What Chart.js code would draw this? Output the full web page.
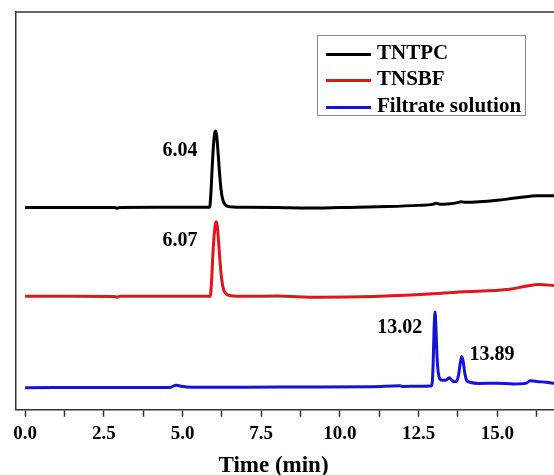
<!DOCTYPE html>
<html>
<head>
<meta charset="utf-8">
<script src="https://cdn.jsdelivr.net/npm/chart.js@4.4.0/dist/chart.umd.min.js"></script>
<style>
  html, body { margin: 0; padding: 0; background: #fff; }
  #wrap { position: relative; width: 554px; height: 475px; }
  #legend {
    position: absolute; left: 317px; top: 35px; width: 207px; height: 79px;
    border: 1px solid #8a8a8a; background: #fff;
    font: bold 21px 'Liberation Serif', 'Times New Roman', serif; color: #000;
  }
  #legend div { position: absolute; left: 8px; height: 26px; line-height: 26px; white-space: nowrap; }
  #legend span.line { display: inline-block; width: 45px; height: 3px; vertical-align: middle; margin-right: 6px; }
</style>
</head>
<body>
<div id="wrap">
  <canvas id="chart" width="554" height="475"></canvas>
  <div id="legend"></div>
</div>
<script>
// retention time axis (min)
const majorTicks = [0, 2.5, 5, 7.5, 10, 12.5, 15];
const minorTicks = [1.25, 3.75, 6.25, 8.75, 11.25, 13.75, 16.25];

const seriesNames = ["TNTPC", "TNSBF", "Filtrate solution"];
const seriesColors = ["#000000", "#e3141c", "#1414d6"];

// TNTPC trace (signal, offset stack, arbitrary units)
const tntpcTime = [0, 1.5, 2.85, 2.92, 3.0, 4.5, 5.86, 5.9, 5.94, 5.98, 6.02, 6.05, 6.08, 6.12, 6.17, 6.22, 6.28, 6.36, 6.45, 6.6, 7.0, 8.0, 9.0, 10.0, 11.5, 12.5, 12.95, 13.05, 13.2, 13.7, 13.85, 14.0, 15.0, 15.5, 15.9, 16.2, 16.5, 16.8];
const tntpcSignal = [201.5, 201.5, 201.4, 200.7, 201.5, 201.6, 201.6, 215, 240, 262, 275, 277.5, 274, 260, 238, 220, 209, 204, 202.5, 201.8, 201.6, 201.3, 200.8, 201.3, 202.3, 203.5, 204.5, 205.5, 204.5, 206, 207, 206.5, 208.5, 210.5, 212, 213, 213.2, 213];

// TNSBF trace
const tnsbfTime = [0, 1.5, 2.85, 2.92, 3.0, 4.5, 5.88, 5.92, 5.96, 6.0, 6.04, 6.07, 6.1, 6.14, 6.19, 6.24, 6.3, 6.38, 6.47, 6.62, 7.2, 8.0, 9.3, 11.1, 12.7, 13.8, 15.4, 15.9, 16.35, 16.8];
const tnsbfSignal = [113, 113, 112.8, 112, 113, 113, 113, 127, 152, 172, 184, 187.3, 184, 170, 148, 131, 120, 115.5, 114, 113.3, 113, 113.3, 112, 112.8, 115, 117.3, 120, 123, 124.7, 123.7];

// Filtrate solution trace
const filtrateTime = [0, 2.9, 4.6, 4.8, 4.95, 5.3, 7.0, 9.0, 11.0, 11.9, 12.0, 12.5, 12.92, 12.96, 12.99, 13.02, 13.05, 13.08, 13.12, 13.17, 13.25, 13.35, 13.43, 13.48, 13.54, 13.62, 13.7, 13.77, 13.82, 13.87, 13.92, 13.97, 14.03, 14.12, 14.4, 15.0, 15.5, 15.9, 16.05, 16.3, 16.55, 16.8];
const filtrateSignal = [22, 22.3, 22.3, 24.5, 23.5, 22.5, 22.5, 22.8, 23, 24, 23.2, 23.5, 24, 45, 80, 97.3, 82, 55, 38, 31, 29.5, 29.5, 31, 32, 30, 28, 28.5, 35, 46, 53, 47, 36, 29, 27.5, 26.3, 26.5, 25.8, 26.3, 28.8, 28, 27.5, 26.3];

// peak annotations: text, time and level of the label centre
const peakLabels = ["6.04", "6.07", "13.02", "13.89"];
const peakLabelTime = [4.92, 4.92, 11.9, 14.83];
const peakLabelLevel = [258, 168, 82, 55];

const fontFamily = "'Liberation Serif', 'Times New Roman', serif";
Chart.defaults.font.family = fontFamily;
Chart.defaults.color = "#000";

function toPoints(times, values) {
    return times.map((t, i) => ({ x: t, y: values[i] }));
}

const traces = [
    toPoints(tntpcTime, tntpcSignal),
    toPoints(tnsbfTime, tnsbfSignal),
    toPoints(filtrateTime, filtrateSignal)
];

// top edge of the frame
const frameTop = {
    id: "frameTop",
    afterDraw(chart) {
        const { ctx, chartArea } = chart;
        ctx.save();
        ctx.strokeStyle = "#333";
        ctx.lineWidth = 1.5;
        ctx.beginPath();
        ctx.moveTo(chartArea.left - 0.75, chartArea.top);
        ctx.lineTo(chartArea.right, chartArea.top);
        ctx.stroke();
        ctx.restore();
    }
};

// retention time labels next to the peaks
const peakText = {
    id: "peakText",
    afterDatasetsDraw(chart) {
        const { ctx, scales } = chart;
        ctx.save();
        ctx.font = "bold 20px " + fontFamily;
        ctx.fillStyle = "#000";
        ctx.textAlign = "center";
        ctx.textBaseline = "middle";
        peakLabels.forEach((txt, i) => {
            ctx.fillText(txt, scales.x.getPixelForValue(peakLabelTime[i]), scales.y.getPixelForValue(peakLabelLevel[i]));
        });
        ctx.restore();
    }
};

const chart = new Chart(document.getElementById("chart").getContext("2d"), {
    type: "line",
    data: {
        datasets: seriesNames.map((name, i) => ({
            label: name,
            data: traces[i],
            borderColor: seriesColors[i],
            borderWidth: 3,
            pointRadius: 0,
            tension: 0.3,
            cubicInterpolationMode: "monotone",
            fill: false
        }))
    },
    options: {
        responsive: false,
        animation: false,
        layout: { padding: { left: 16, right: 0, top: 12, bottom: 0 } },
        plugins: { legend: { display: false }, title: { display: false }, tooltip: { enabled: false } },
        scales: {
            x: {
                type: "linear",
                min: -0.29,
                max: 16.8,
                afterBuildTicks: scale => {
                    scale.ticks = majorTicks.concat(minorTicks).sort((a, b) => a - b).map(v => ({ value: v }));
                },
                ticks: {
                    autoSkip: false,
                    maxRotation: 0,
                    padding: 6,
                    color: "#000",
                    font: { size: 19, weight: "bold" },
                    callback: v => majorTicks.includes(v) ? v.toFixed(1) : ""
                },
                grid: { drawOnChartArea: false, drawTicks: true, tickLength: 7, tickColor: "#333", tickWidth: 1.5 },
                border: { display: true, color: "#333", width: 1.5 },
                title: {
                    display: true,
                    text: "Time (min)\u00a0\u00a0\u00a0\u00a0",
                    color: "#000",
                    font: { size: 23, weight: "bold", lineHeight: 0.8 },
                    padding: { top: 5, bottom: 0 }
                }
            },
            y: {
                min: 0,
                max: 396,
                ticks: { display: false },
                grid: { display: false, drawTicks: false },
                border: { display: true, color: "#333", width: 1.5 }
            }
        }
    },
    plugins: [frameTop, peakText]
});

// legend box
const legend = document.getElementById("legend");
const rowTops = [3, 29, 56];
seriesNames.forEach((name, i) => {
    const row = document.createElement("div");
    row.style.top = rowTops[i] + "px";
    const line = document.createElement("span");
    line.className = "line";
    line.style.background = seriesColors[i];
    row.appendChild(line);
    row.appendChild(document.createTextNode(name));
    legend.appendChild(row);
});
</script>
</body>
</html>
